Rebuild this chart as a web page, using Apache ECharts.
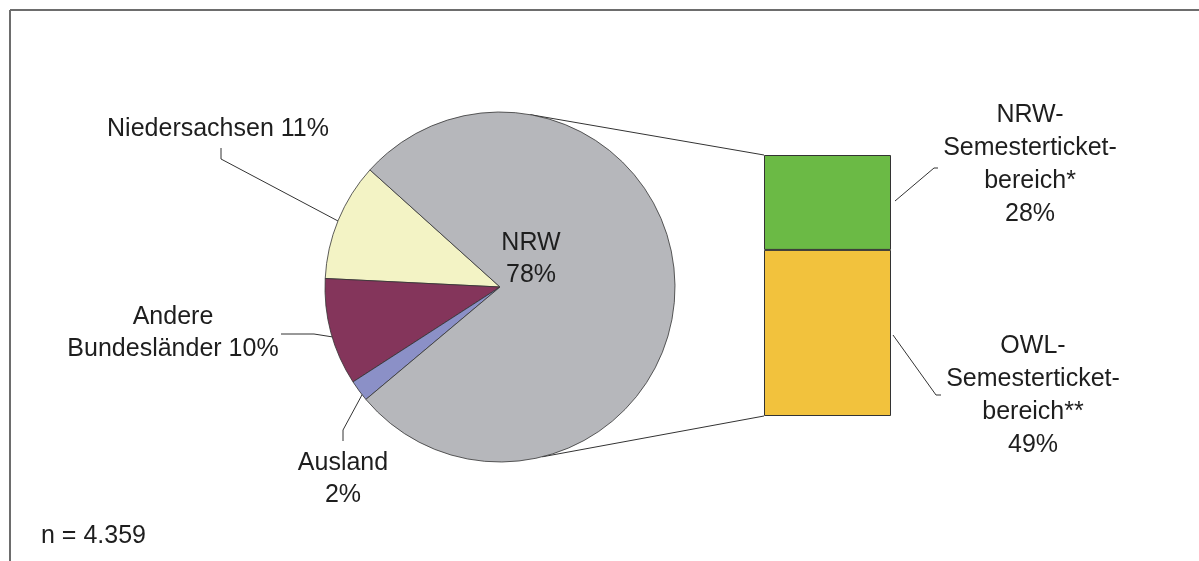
<!DOCTYPE html>
<html>
<head>
<meta charset="utf-8">
<script src="https://cdn.jsdelivr.net/npm/echarts@6/dist/echarts.min.js"></script>
<style>
  html, body { margin: 0; padding: 0; background: #fff; }
  #chart { width: 1199px; height: 561px; }
</style>
</head>
<body>
<div id="chart"></div>
<script>
// Herkunft der Studierenden (Pie) + Aufteilung NRW (Bar)
const pieNames = ['Niedersachsen', 'Andere\nBundesländer', 'Ausland', 'NRW']
const pieValues = [11, 10, 2, 78]
const pieSeparators = [' ', ' ', '\n', '\n']
const pieColors = ['#f3f3c5', '#84355b', '#8b90c7', '#b6b7bb']

const barNames = ['OWL-\nSemesterticket-\nbereich**', 'NRW-\nSemesterticket-\nbereich*']
const barValues = [49, 28]
const barColors = ['#f2c23d', '#6bba45']

const sampleSize = 'n = 4.359'

const font = '"Liberation Sans", Arial, sans-serif'
const fontSize = 25
const textColor = '#1e1e1e'
const lineColor = '#333'

const pieCenter = [500, 287]
const pieRadius = 175

// label anchors + leader lines (pie)
const pieLabelPos = [
  { x: 218, y: 129, line: [[338, 221], [221, 159], [221, 148]] },
  { x: 173, y: 333, line: [[333, 337], [314, 334], [281, 334]] },
  { x: 343, y: 479, line: [[363, 393], [343, 430], [343, 441]] },
  { x: 531, y: 259 },
]
// label anchors + leader lines (bar)
const barLabelPos = [
  { x: 1033, y: 396, line: [[893, 335], [936, 395], [941, 395]] },
  { x: 1030, y: 165, line: [[895, 201], [934, 168], [938, 168]] },
]

const chart = echarts.init(document.getElementById('chart'))
const barTotal = barValues.reduce((a, b) => a + b, 0)

chart.setOption({
  animation: false,
  textStyle: { fontFamily: font },
  grid: { left: 764, top: 155, width: 127, height: 261 },
  xAxis: { type: 'category', data: ['NRW'], show: false },
  yAxis: { type: 'value', min: 0, max: barTotal, show: false },
  series: [
    {
      type: 'pie',
      center: pieCenter,
      radius: pieRadius,
      startAngle: 138,
      clockwise: false,
      itemStyle: { borderColor: lineColor, borderWidth: 0.8 },
      label: {
        show: true,
        position: 'outside',
        fontSize: fontSize,
        lineHeight: 32,
        color: textColor,
        align: 'center',
        fontFamily: font,
        formatter: (p) => p.name + pieSeparators[p.dataIndex] + p.value + '%',
      },
      labelLine: { show: true, lineStyle: { color: lineColor, width: 1 } },
      labelLayout: (p) => {
        const pos = pieLabelPos[p.dataIndex]
        const out = { x: pos.x, y: pos.y, align: 'center', verticalAlign: 'middle' }
        if (pos.line) out.labelLinePoints = pos.line
        return out
      },
      emphasis: { disabled: true },
      data: pieValues.map((v, i) => ({
        name: pieNames[i],
        value: v,
        itemStyle: { color: pieColors[i] },
        labelLine: { show: !!pieLabelPos[i].line },
      })),
    },
    ...barValues.map((v, i) => ({
      type: 'bar',
      stack: 'nrw',
      name: barNames[i],
      barWidth: '100%',
      data: [v],
      itemStyle: { color: barColors[i], borderColor: lineColor, borderWidth: 1 },
      label: {
        show: true,
        fontSize: fontSize,
        lineHeight: 33,
        color: textColor,
        align: 'center',
        fontFamily: font,
        formatter: (p) => p.seriesName + '\n' + p.value + '%',
      },
      labelLayout: () => ({
        x: barLabelPos[i].x,
        y: barLabelPos[i].y,
        align: 'center',
        verticalAlign: 'middle',
      }),
      emphasis: { disabled: true },
    })),
  ],
})

// connector lines pie -> bar, bar leader lines, frame, sample size
function drawExtras() {
  const barTop = chart.convertToPixel({ gridIndex: 0 }, [0, barTotal])[1]
  const barBottom = chart.convertToPixel({ gridIndex: 0 }, [0, 0])[1]
  const barLeft = 764
  const edge = (deg) => {
    const a = (deg * Math.PI) / 180
    return [pieCenter[0] + pieRadius * Math.cos(a), pieCenter[1] - pieRadius * Math.sin(a)]
  }
  const top = edge(80)
  const bottom = edge(-76)
  const thin = { stroke: lineColor, lineWidth: 1, fill: null }
  chart.setOption({
    graphic: [
      { type: 'line', shape: { x1: top[0], y1: top[1], x2: barLeft, y2: barTop }, style: thin, z: -1 },
      { type: 'line', shape: { x1: bottom[0], y1: bottom[1], x2: barLeft, y2: barBottom }, style: thin, z: -1 },
      ...barLabelPos.map((p) => ({ type: 'polyline', shape: { points: p.line }, style: thin })),
      { type: 'line', shape: { x1: 10, y1: 10, x2: 1199, y2: 10 }, style: { stroke: '#6d6d6d', lineWidth: 2 } },
      { type: 'line', shape: { x1: 10, y1: 10, x2: 10, y2: 561 }, style: { stroke: '#6d6d6d', lineWidth: 2 } },
      { type: 'text', left: 41, top: 524, style: { text: sampleSize, font: fontSize + 'px ' + font, fill: textColor } },
    ],
  })
}
drawExtras()

window.addEventListener('resize', () => chart.resize())
</script>
</body>
</html>
